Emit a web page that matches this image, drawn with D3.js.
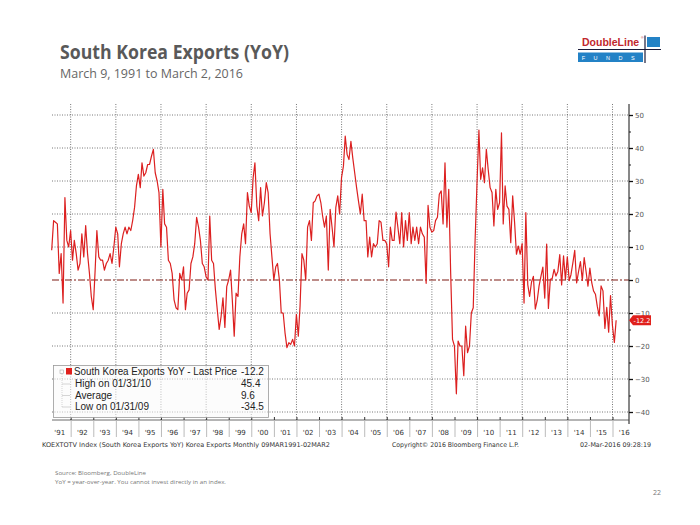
<!DOCTYPE html>
<html><head><meta charset="utf-8">
<script src="https://cdn.jsdelivr.net/npm/d3@7"></script>
<style>body{margin:0;background:#fff} svg{display:block}</style>
</head><body><svg id="c" width="700" height="525"></svg>
<script>
// ---- data: South Korea exports YoY (%), monthly, month-end values ----
const v1991 = [9, 18, 17.5, 17, 2, 8, -7, 25, 12, 10, 15]; // Feb–Dec
const v1992 = [6, 12, 8, 3, 5, 14, 7, 16.5, 8, 2, -5, -9];
const v1993 = [3, 15, 7, 6, 6, 3, 5, 6, 8, 5, 10, 16];
const v1994 = [14, 4, 11, 14, 16, 14, 16, 15, 18, 22, 28.5, 32];
const v1995 = [28, 35.5, 31.5, 32.5, 35, 35, 37.5, 39.6, 32.5, 30, 26.5, 10];
const v1996 = [27.5, 17, 16, 6, 5, 2, -6, -8.4, -9, 2, 0, 4];
const v1997 = [-9, -4, -3, 5, 7, 11, 19, 16, 12, 5, 4, 1];
const v1998 = [0, 19.4, 6, 5, -3, -9, -15, -11, -5.4, -14.4, -2, 0];
const v1999 = [3, -6, -17, -4, -5, 7, 14, 17, 11, 26.5, 22.4, 20.4];
const v2000 = [31, 35.5, 22.4, 18, 28, 19.4, 23.4, 29.5, 26.5, 14, 7, 0];
const v2001 = [4, 5, 0, -10, -10, -16, -20.5, -19, -19.5, -18, -20, -10.4];
const v2002 = [-17, -8, 8, 6, 0, 16, 18, 12, 23.4, 24, 25.5, 26];
const v2003 = [23.4, 19.4, 16, 19.4, 3, 21.4, 16, 10, 22, 25.5, 20, 31];
const v2004 = [34.5, 43.6, 38, 36.5, 42, 37, 32.5, 28, 24, 20, 26, 18];
const v2005 = [18, 7, 13, 7, 11, 10, 11, 18, 17.5, 12, 12, 11];
const v2006 = [4, 16, 12, 12, 20.6, 16, 11, 20.4, 10, 18, 12, 20.4];
const v2007 = [11, 16, 12, 16, 11, 16, 14, 13, -1, 22.6, 16, 14.5];
const v2008 = [15, 18, 19, 26, 27, 17, 35.5, 16, 27.5, 2, -18, -20];
const v2009 = [-34.5, -18.5, -20, -20, -29, -14, -22, -20, -10, -8.4, 12, 29.5];
const v2010 = [45.4, 30.5, 34, 29.5, 39.6, 33.5, 28, 26.5, 16.4, 27.5, 21.4, 23.4];
const v2011 = [44.6, 17, 28.5, 22.4, 21.4, 11.3, 25.5, 17.4, 7.8, 10.3, 7.8, 11];
const v2012 = [-7, 20.4, -1.4, -5, -0.6, 1.1, -8.8, -6.2, -1.8, 1.2, 3.9, -5.5];
const v2013 = [10.9, -8.6, 0.2, 0.4, 3.2, 1.2, 2.6, 7.7, -1.5, 7.3, 0.2, 7];
const v2014 = [-0.2, 1.6, 5.2, 9, -0.9, 2.5, 5.6, -0.1, 6.8, 2.5, -1.9, 3.6];
const v2015 = [-0.9, -3.3, -4.3, -8, -10.9, -1.8, -3.3, -14.7, -8.3, -15.8, -4.7, -13.8];
const v2016 = [-18.9, -12.2]; // Jan–Feb

const yearLabels = ["'91","'92","'93","'94","'95","'96","'97","'98","'99","'00","'01","'02","'03",
                    "'04","'05","'06","'07","'08","'09","'10","'11","'12","'13","'14","'15","'16"];
const yTicks = [50, 40, 30, 20, 10, 0, -10, -20, -30, -40];
const legendRows = ["South Korea Exports YoY - Last Price", "High on 01/31/10", "Average", "Low on 01/31/09"];
const legendVals = ["-12.2", "45.4", "9.6", "-34.5"];
const lastPrice = -12.2;

// ---- assemble series (first value = Feb 1991) ----
const allYears = [v1991,v1992,v1993,v1994,v1995,v1996,v1997,v1998,v1999,v2000,v2001,v2002,v2003,
  v2004,v2005,v2006,v2007,v2008,v2009,v2010,v2011,v2012,v2013,v2014,v2015,v2016];
const series = [];
allYears.forEach((arr, yi) => {
  const yr = 1991 + yi;
  const m0 = yr === 1991 ? 1 : 0;
  arr.forEach((v, k) => series.push({date: new Date(yr, m0 + k + 1, 0), value: v}));
});

const svg = d3.select("#c");
const P = {l: 52, r: 629, t: 104, b: 420};
const x = d3.scaleTime().domain([new Date(1991,0,1), new Date(2016,0,1)]).range([48.1, 612.5]);
const y = d3.scaleLinear().domain([-40, 50]).range([412, 115]);

svg.append("rect").attr("width",700).attr("height",525).attr("fill","#fff");

// ---- title ----
svg.append("text").attr("x",60).attr("y",59).text("South Korea Exports (YoY)")
  .attr("font-family","'Open Sans', sans-serif").attr("font-weight","bold").attr("font-size",19)
  .attr("fill","#595959").attr("textLength",229).attr("lengthAdjust","spacingAndGlyphs");
svg.append("text").attr("x",60).attr("y",77.5).text("March 9, 1991 to March 2, 2016")
  .attr("font-family","'Open Sans', sans-serif").attr("font-size",12)
  .attr("fill","#666").attr("textLength",183).attr("lengthAdjust","spacingAndGlyphs");

// ---- logo ----
const logo = svg.append("g");
logo.append("rect").attr("x",578).attr("y",52.5).attr("width",65).attr("height",9.5).attr("fill","#2382c6");
logo.append("rect").attr("x",647).attr("y",37).attr("width",13).attr("height",10).attr("fill","#2382c6");
logo.append("text").attr("x",582).attr("y",46).text("DoubleLine")
  .attr("font-family","'Liberation Sans', Arial, sans-serif").attr("font-weight","bold").attr("font-size",10.5)
  .attr("fill","#c1272d");
logo.append("text").attr("x",641).attr("y",38.5).text("®").attr("font-size",3.5).attr("fill","#c1272d")
  .attr("font-family","'Liberation Sans', Arial, sans-serif");
logo.append("text").attr("x",610).attr("y",59.8).text("F U N D S").attr("text-anchor","middle")
  .attr("font-family","'Liberation Sans', Arial, sans-serif").attr("font-size",5.5).attr("fill","#fff")
  .attr("letter-spacing",3.5);
logo.append("line").attr("x1",645).attr("x2",645).attr("y1",35.5).attr("y2",63).attr("stroke","#1b1b3a").attr("stroke-width",1.2);
logo.append("line").attr("x1",578).attr("x2",661).attr("y1",49.5).attr("y2",49.5).attr("stroke","#1b1b3a").attr("stroke-width",1.2);

// ---- gridlines ----
const grid = svg.append("g");
grid.selectAll("line.h").data(yTicks.filter(d => d !== 0)).join("line")
  .attr("x1",P.l).attr("x2",P.r).attr("y1",d=>y(d)).attr("y2",d=>y(d))
  .attr("stroke","#555").attr("stroke-width",0.8).attr("stroke-dasharray","1,1.5");
const gridYears = d3.range(1992, 2017, 2).map(yr => new Date(yr,0,1));
grid.selectAll("line.v").data(gridYears).join("line")
  .attr("x1",d=>x(d)).attr("x2",d=>x(d)).attr("y1",P.t).attr("y2",P.b)
  .attr("stroke","#555").attr("stroke-width",0.8).attr("stroke-dasharray","1,1.5");
// zero line
svg.append("line").attr("x1",P.l).attr("x2",P.r).attr("y1",y(0)).attr("y2",y(0))
  .attr("stroke","#7d1a12").attr("stroke-width",1).attr("stroke-dasharray","7,2,2,2");

// ---- series line ----
svg.append("path").datum(series)
  .attr("d", d3.line().x(d=>x(d.date)).y(d=>y(d.value)))
  .attr("fill","none").attr("stroke","#dc2020").attr("stroke-width",1.2).attr("stroke-linejoin","round");

// ---- right axis ----
const minor = d3.range(-40, 51, 5).filter(d => d % 10 !== 0);
svg.append("g").attr("transform",`translate(${P.r},0)`)
  .call(d3.axisRight(y).tickValues(minor).tickSize(2).tickFormat(""))
  .call(g => g.select(".domain").remove())
  .call(g => g.selectAll("line").attr("stroke","#222"));
const ra = svg.append("g").attr("transform",`translate(${P.r},0)`)
  .call(d3.axisRight(y).tickValues(yTicks).tickSize(4).tickPadding(2).tickSizeOuter(0));
ra.select(".domain").attr("d",`M0,${P.t}V${P.b + 4}`).attr("stroke","#111");
ra.selectAll(".tick line").attr("stroke","#111").attr("stroke-width",1.3);
ra.selectAll(".tick text").attr("font-family","'DejaVu Sans', sans-serif").attr("font-size",7).attr("fill","#555");

// last price tag
const yl = y(lastPrice);
svg.append("path").attr("d",`M${P.r},${yl}L${P.r+4},${yl-5}L${P.r+22},${yl-5}L${P.r+22},${yl+5}L${P.r+4},${yl+5}Z`)
  .attr("fill","#e0201c");
svg.append("text").attr("x",P.r+13).attr("y",yl+2.5).attr("text-anchor","middle").text(lastPrice.toFixed(1))
  .attr("font-family","'DejaVu Sans', sans-serif").attr("font-size",6.5).attr("fill","#fff");

// ---- bottom axis ----
svg.append("line").attr("x1",P.l).attr("x2",P.r).attr("y1",P.b).attr("y2",P.b).attr("stroke","#444").attr("stroke-width",0.8);
const sepYears = d3.range(1992, 2017).map(yr => new Date(yr,0,1));
svg.append("g").attr("transform",`translate(0,${P.b})`)
  .call(d3.axisBottom(x).tickValues(sepYears).tickSize(17).tickFormat(""))
  .call(g => g.select(".domain").remove())
  .call(g => g.selectAll("line").attr("stroke","#bbb"));
svg.append("g").attr("transform",`translate(0,${P.b})`)
  .call(d3.axisTop(x).tickValues(sepYears).tickSize(3).tickFormat(""))
  .call(g => g.select(".domain").remove())
  .call(g => g.selectAll("line").attr("stroke","#333"));
const midYears = d3.range(1991, 2017).map(yr => new Date(yr,6,1));
svg.append("g").attr("transform",`translate(0,${P.b})`)
  .call(d3.axisBottom(x).tickValues(midYears).tickSize(0).tickPadding(10).tickFormat((d,i)=>yearLabels[i]))
  .call(g => g.select(".domain").remove())
  .call(g => g.selectAll("text").attr("font-family","'DejaVu Sans', sans-serif").attr("font-size",7).attr("fill","#333"));

const small = "'DejaVu Sans', sans-serif";
svg.append("text").attr("x",42).attr("y",446.5).text("KOEXTOTV Index (South Korea Exports YoY) Korea Exports  Monthly 09MAR1991-02MAR2")
  .attr("font-family",small).attr("font-size",6.5).attr("fill","#333").attr("textLength",288).attr("lengthAdjust","spacingAndGlyphs");
svg.append("text").attr("x",392).attr("y",446.5).text("Copyright© 2016 Bloomberg Finance L.P.")
  .attr("font-family",small).attr("font-size",6.5).attr("fill","#333").attr("textLength",127).attr("lengthAdjust","spacingAndGlyphs");
svg.append("text").attr("x",580).attr("y",446.5).text("02-Mar-2016 09:28:19")
  .attr("font-family",small).attr("font-size",6.5).attr("fill","#333").attr("textLength",71).attr("lengthAdjust","spacingAndGlyphs");

// ---- legend ----
const lg = svg.append("g");
lg.append("rect").attr("x",53.5).attr("y",365.5).attr("width",215).attr("height",52)
  .attr("fill","#fafafa").attr("fill-opacity",0.55).attr("stroke","#999").attr("stroke-width",0.8);
lg.append("rect").attr("x",60).attr("y",370).attr("width",3.5).attr("height",3.5).attr("fill","none").attr("stroke","#aaa").attr("stroke-width",0.6);
lg.append("rect").attr("x",66).attr("y",368).attr("width",6).attr("height",6.5).attr("fill","#e0201c");
lg.append("line").attr("x1",62).attr("x2",62).attr("y1",374).attr("y2",407).attr("stroke","#bbb").attr("stroke-width",0.6).attr("stroke-dasharray","1,1");
[384, 395.5, 407].forEach(yy => lg.append("line").attr("x1",62).attr("x2",70).attr("y1",yy).attr("y2",yy).attr("stroke","#bbb").attr("stroke-width",0.6));
const rowY = [375, 387, 398.5, 410];
lg.selectAll("text.lab").data(legendRows).join("text")
  .attr("x",(d,i)=> i === 0 ? 74 : 75).attr("y",(d,i)=>rowY[i]).text(d=>d)
  .attr("font-family","'Liberation Sans', Arial, sans-serif").attr("font-size",10).attr("fill","#222")
  .attr("textLength",(d,i)=> i === 0 ? 163 : null).attr("lengthAdjust","spacingAndGlyphs");
lg.selectAll("text.val").data(legendVals).join("text")
  .attr("x",241).attr("y",(d,i)=>rowY[i]).text(d=>d)
  .attr("font-family","'Liberation Sans', Arial, sans-serif").attr("font-size",10).attr("fill","#222");

// ---- footer ----
svg.append("text").attr("x",55).attr("y",475).text("Source: Bloomberg, DoubleLine")
  .attr("font-family","'Open Sans', sans-serif").attr("font-size",5.8).attr("fill","#777")
  .attr("textLength",91).attr("lengthAdjust","spacingAndGlyphs");
svg.append("text").attr("x",55).attr("y",483.5).text("YoY = year-over-year. You cannot invest directly in an index.")
  .attr("font-family","'Open Sans', sans-serif").attr("font-size",5.8).attr("fill","#777")
  .attr("textLength",171).attr("lengthAdjust","spacingAndGlyphs");
svg.append("text").attr("x",661).attr("y",495).attr("text-anchor","end").text("22")
  .attr("font-family","'Open Sans', sans-serif").attr("font-size",7).attr("fill","#777");
</script>
</body></html>
